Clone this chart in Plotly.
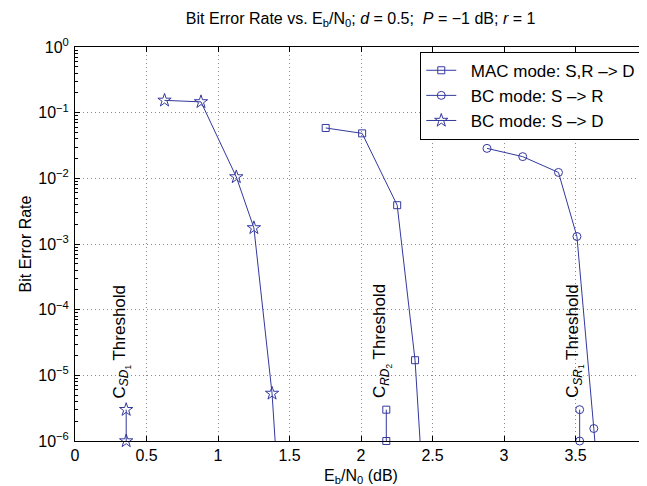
import plotly.graph_objects as go

# ---- data ----
mac_x = [1.753, 2.008, 2.253, 2.378, 2.50]
mac_y = [0.0585, 0.0484, 0.0039, 1.7e-5, 9e-10]

bcsr_x = [2.881, 3.131, 3.381, 3.51, 3.628, 3.75]
bcsr_y = [0.0286, 0.0214, 0.0123, 1.3e-3, 1.55e-6, 1e-9]

bcsd_x = [0.626, 0.881, 1.128, 1.251, 1.378, 1.505]
bcsd_y = [0.154, 0.146, 0.0105, 0.00176, 5.3e-6, 3e-10]

thr_x = [0.358, 2.177, 3.529]          # threshold positions (S->D, MAC, S->R)
thr_y = [3e-6, 1e-6]
thr_symbols = ["star-open", "square-open", "circle-open"]
thr_labels = ["C<sub><i>SD</i><sub>1</sub></sub> Threshold",
              "C<sub><i>RD</i><sub>2</sub></sub> Threshold",
              "C<sub><i>SR</i><sub>1</sub></sub> Threshold"]

names = ["MAC mode: S,R –> D", "BC mode: S –> R", "BC mode: S –> D"]
tick_x = [0, 0.5, 1, 1.5, 2, 2.5, 3, 3.5, 4]
tick_y = [1e-6, 1e-5, 1e-4, 1e-3, 1e-2, 1e-1, 1]
tick_y_text = ["10<sup>−6</sup>", "10<sup>−5</sup>", "10<sup>−4</sup>", "10<sup>−3</sup>",
               "10<sup>−2</sup>", "10<sup>−1</sup>", "10<sup>0</sup>"]

COL = "#34389e"
FONT = "Liberation Sans, Arial, Helvetica, sans-serif"
NB = "\u00a0\u00a0"

fig = go.Figure()

series = [(mac_x, mac_y, "square-open", 7),
          (bcsr_x, bcsr_y, "circle-open", 8),
          (bcsd_x, bcsd_y, "star-open", 10)]
for (xs, ys, sym, sz), nm in zip(series, names):
    fig.add_trace(go.Scatter(x=xs, y=ys, mode="lines+markers", name=NB + nm,
                             line=dict(color=COL, width=1),
                             marker=dict(symbol=sym, size=sz, color=COL,
                                         line=dict(color=COL, width=1))))

sizes = {"star-open": 10, "square-open": 7, "circle-open": 8}
for tx, sym in zip(thr_x, thr_symbols):
    fig.add_trace(go.Scatter(x=[tx, tx], y=thr_y, mode="lines+markers",
                             showlegend=False, cliponaxis=False,
                             line=dict(color=COL, width=1),
                             marker=dict(symbol=sym, size=sizes[sym], color=COL,
                                         line=dict(color=COL, width=1))))

for tx, lab in zip(thr_x, thr_labels):
    fig.add_annotation(x=tx - 0.032, y=-5.38, text=lab, textangle=-90,
                       showarrow=False, xanchor="center", yanchor="bottom",
                       font=dict(size=17, color="black", family=FONT))

axis_common = dict(showline=True, linecolor="black", linewidth=1, mirror="ticks",
                   ticks="inside", ticklen=5, tickcolor="black",
                   showgrid=True, gridcolor="#8c8c8c", griddash="1px,3px", gridwidth=1,
                   zeroline=False, tickfont=dict(size=16, color="black", family=FONT))

fig.update_xaxes(range=[0, 4], tickvals=tick_x, ticktext=[str(t) for t in tick_x],
                 ticklabeloverflow="allow",
                 title=dict(text="E<sub>b</sub>/N<sub>0</sub> (dB)", standoff=6,
                            font=dict(size=16, color="black", family=FONT)),
                 **axis_common)
fig.update_yaxes(type="log", range=[-6, 0], tickvals=tick_y, ticktext=tick_y_text,
                 ticklabelstandoff=2,
                 title=dict(text="Bit Error Rate", standoff=2,
                            font=dict(size=16, color="black", family=FONT)),
                 minor=dict(ticks="inside", ticklen=3, tickcolor="black",
                            dtick="D1", showgrid=False),
                 **axis_common)

fig.update_layout(
    width=647, height=486,
    margin=dict(l=67, r=3, t=39, b=53),
    paper_bgcolor="white", plot_bgcolor="white",
    font=dict(family=FONT, color="black", size=16),
    title=dict(text="Bit Error Rate vs. E<sub>b</sub>/N<sub>0</sub>; <i>d</i> = 0.5;  <i>P</i> = −1 dB; <i>r</i> = 1",
               x=0.545, xanchor="center", y=0.99, yanchor="top",
               font=dict(size=16, color="black", family=FONT)),
    legend=dict(x=0.99, y=0.988, xanchor="right", yanchor="top",
                bgcolor="white", bordercolor="black", borderwidth=1,
                font=dict(size=17, color="black", family=FONT),
                tracegroupgap=0),
    showlegend=True,
)

fig.write_html("out.html")
